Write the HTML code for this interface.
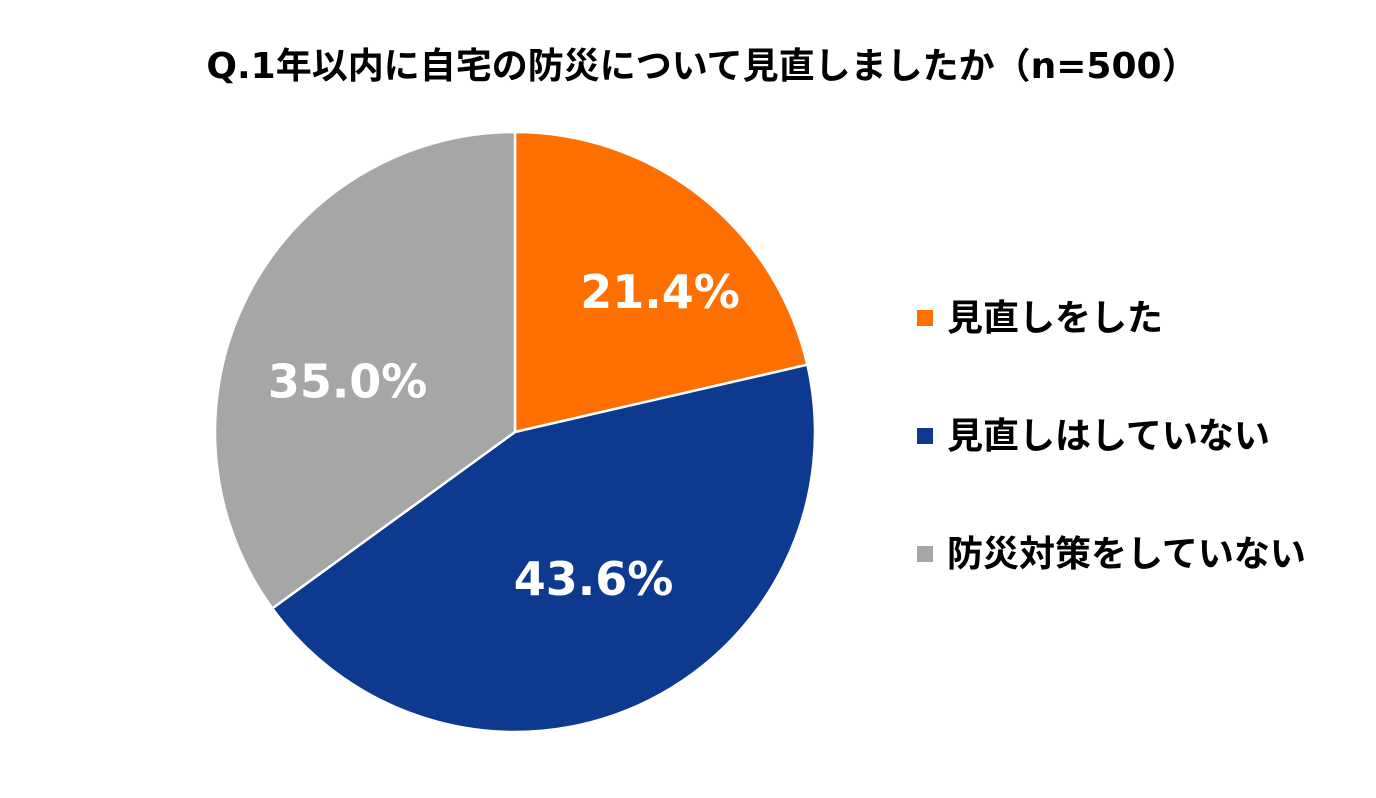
<!DOCTYPE html>
<html><head><meta charset="utf-8"><style>
html,body{margin:0;padding:0;background:#fff;}
svg{display:block;font-family:"DejaVu Sans","Noto Sans CJK JP",sans-serif;}
</style></head><body>
<svg id="chart" width="1376" height="798">
<text x="702" y="78" text-anchor="middle" font-size="36" font-weight="bold" fill="#000">Q.1年以内に自宅の防災について見直しましたか（n=500）</text>
<g id="slices"></g>
<g id="labels"></g>
<g id="legend"></g>
</svg>
<script>
const categories = ["見直しをした","見直しはしていない","防災対策をしていない"];
const values = [21.4, 43.6, 35.0];
const valueLabels = ["21.4%","43.6%","35.0%"];
const colors = ["#FF6F00","#0D3A8E","#A6A6A6"];
const labelShift = [[33,0],[4,-18],[-7,30]];
const cx=515, cy=432, r=300;
const NS="http://www.w3.org/2000/svg";
const total=values.reduce((a,b)=>a+b,0);
const sg=document.getElementById('slices'), lg=document.getElementById('labels'), leg=document.getElementById('legend');
function pt(a,rr){return [cx+rr*Math.sin(a), cy-rr*Math.cos(a)];}
let start=0;
values.forEach((v,i)=>{
  const ang=v/total*2*Math.PI, end=start+ang;
  const [x1,y1]=pt(start,r),[x2,y2]=pt(end,r);
  const p=document.createElementNS(NS,'path');
  p.setAttribute('d',`M${cx},${cy} L${x1},${y1} A${r},${r} 0 ${ang>Math.PI?1:0} 1 ${x2},${y2} Z`);
  p.setAttribute('fill',colors[i]);p.setAttribute('stroke','#fff');p.setAttribute('stroke-width','2.5');
  
  
  sg.appendChild(p);
  const mid=(start+end)/2;const [lx,ly]=pt(mid,r*0.6);
  const t=document.createElementNS(NS,'text');
  t.setAttribute('x',lx+labelShift[i][0]);t.setAttribute('y',ly+17+labelShift[i][1]);t.setAttribute('text-anchor','middle');
  t.setAttribute('font-size','46');t.setAttribute('font-weight','bold');t.setAttribute('fill','#fff');
  t.textContent=valueLabels[i];
  
  
  lg.appendChild(t);
  start=end;
  const y=318+i*118;
  const rect=document.createElementNS(NS,'rect');
  rect.setAttribute('x',917);rect.setAttribute('y',y-8);rect.setAttribute('width',16);rect.setAttribute('height',16);rect.setAttribute('fill',colors[i]);
  
  
  leg.appendChild(rect);
  const lt=document.createElementNS(NS,'text');
  lt.setAttribute('x',947);lt.setAttribute('y',y+12);lt.setAttribute('font-size','36');lt.setAttribute('font-weight','bold');lt.setAttribute('fill','#000');
  lt.textContent=categories[i];
  
  
  leg.appendChild(lt);
});
</script>
</body></html>
